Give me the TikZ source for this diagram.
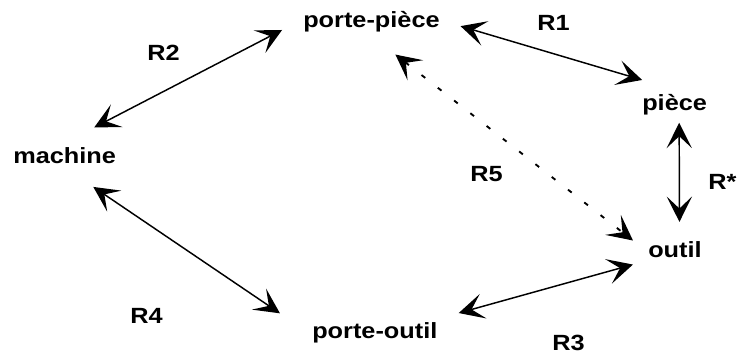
\documentclass[tikz,border=0pt]{standalone}
\usepackage{fontspec}
\setmainfont[FakeStretch=1.15]{Liberation Sans}
\usetikzlibrary{arrows.meta,positioning}
\tikzset{
obj/.style={
  anchor=base west,
  inner sep=3pt,
  font=\fontsize{16.5}{20}\selectfont\bfseries
  },
lab/.style={
  anchor=base west,
  inner sep=0pt,
  font=\fontsize{16.5}{20}\selectfont\bfseries
  },
rel/.style={draw, line width=1.1pt, {Stealth[length=19pt,width=19pt,inset=9pt]}-{Stealth[length=19pt,width=19pt,inset=9pt]}},
relopt/.style={rel, line width=1.4pt, dash pattern=on 3.5pt off 12pt}
}

\begin{document}
\begin{tikzpicture}[x=0.75pt,y=0.75pt,yscale=-1,xscale=1]
\useasboundingbox (0,0) rectangle (739,357);

\draw (299,27) node [obj] (pp) {porte-pièce};
\draw (9,163) node [obj] (machine) {machine};
\draw (638,110) node [obj] (piece) {pièce};
\draw (644,257) node [obj] (outil) {outil};
\draw (308,338) node [obj] (po) {porte-outil};

\draw (537,30) node [lab] (r1) {R1};
\draw (147,60) node [lab] (r2) {R2};
\draw (552,350) node [lab] (r3) {R3};
\draw (130,323) node [lab] (r4) {R4};
\draw (470,181) node [lab] (r5) {R5};
\draw (708,189) node [lab] (rstar) {R*};

\draw [rel, shorten <=13pt, shorten >=25.4pt] (pp.east) -- (piece.north);
\draw [rel, shorten <=25pt, shorten >=14.3pt] (machine.north) -- (pp.west);
\draw [rel, shorten <=13.3pt, shorten >=8.6pt] (po.north east) -- (outil.south west);
\draw [rel, shorten <=26pt, shorten >=25.4pt] (machine.south) -- (po.west);
\draw [relopt, shorten <=22.8pt, shorten >=10.5pt] (pp.south) -- (outil.west);
\draw [rel, shorten <=3pt, shorten >=11.2pt] ([xshift=3.4pt]piece.south) -- ([xshift=3.4pt]outil.north);

\end{tikzpicture}
\end{document}
